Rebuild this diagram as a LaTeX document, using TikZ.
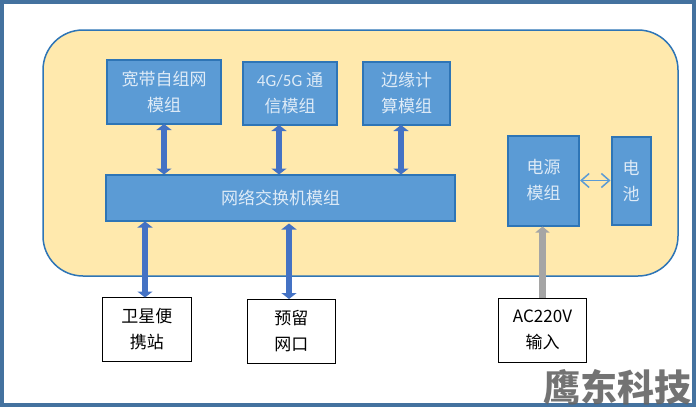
\documentclass[tikz,border=0pt]{standalone}
\usepackage{fontspec}
\setmainfont{Carlito}
\newfontfamily\cjk{Noto Sans CJK SC}
\usepackage{xcolor}
\definecolor{framblue}{RGB}{68,114,159}
\definecolor{panelfill}{RGB}{255,233,173}
\definecolor{panelline}{RGB}{46,117,182}
\definecolor{modfill}{RGB}{91,155,213}
\definecolor{modtext}{RGB}{222,235,247}
\definecolor{arrblue}{RGB}{68,114,196}
\definecolor{arrgray}{RGB}{165,165,165}
\definecolor{markgray}{RGB}{100,100,100}
\usetikzlibrary{arrows.meta,positioning}
\tikzset{
	modbox/.style = {rectangle,draw=panelline,line width=2pt,fill=modfill,
		align=center,inner sep=0pt,text=modtext,
		font=\cjk\fontsize{17}{26}\selectfont},
	extbox/.style = {rectangle,draw=black,line width=1pt,fill=white,
		minimum width=88.5pt,minimum height=64pt,
		align=center,inner sep=0pt,
		font=\cjk\fontsize{17}{26}\selectfont},
	arr/.style    = {{Triangle[width=15pt,length=6pt]}-{Triangle[width=15pt,length=6pt]},
		line width=6.5pt,arrblue,shorten >=-0.5pt,shorten <=-0.5pt},
	parr/.style   = {-{Triangle[width=14pt,length=6pt]},line width=6.5pt,arrgray},
	batarr/.style = {{Straight Barb[width=14pt,length=8pt]}-{Straight Barb[width=14pt,length=8pt]},
		line width=1.5pt,modfill},
}
\begin{document}
\begin{tikzpicture}[x=1pt,y=-1pt]
	\useasboundingbox (0,0) rectangle (696,407);
	\node (frame) [draw=framblue,line width=4pt,fill=white,inner sep=0pt,
	minimum width=692pt,minimum height=403pt] at (348,203.5) {};
	\node (panel) [draw=panelline,line width=1.5pt,fill=panelfill,rounded corners=40pt,
	minimum width=635pt,minimum height=246pt,inner sep=0pt] at (360.5,153) {};
	
	\node (switch) [modbox,minimum width=349pt,minimum height=46pt] at (280.5,198) {网络交换机模组};
	\node (wide) [modbox,minimum width=114pt,minimum height=64pt,
	above right=49.5pt and 1pt of switch.north west] {宽带自组网\\模组};
	\node (comm) [modbox,minimum width=94pt,minimum height=63pt,yshift=-1.5pt,
	right=20pt of wide] {{\fontspec{Carlito}4G/5G} 通\\信模组};
	\node (edgec) [modbox,minimum width=87pt,minimum height=63pt,right=24pt of comm] {边缘计\\算模组};
	\node (power) [modbox,minimum width=71pt,minimum height=90pt,yshift=17.5pt,
	right=51pt of switch] {电源\\模组};
	\node (bat) [modbox,minimum width=39pt,minimum height=88pt,right=30.5pt of power] {电\\池};
	
	\node (sat) [extbox,below right=75pt and -3pt of switch.south west] {卫星便\\携站};
	\node (port) [extbox,yshift=-1.5pt,right=55pt of sat] {预留\\网口};
	\node (ac) [extbox,xshift=-1pt,below=71pt of power] {AC220V\\输入};
	
	\draw[arr] (wide.south) -- (wide.south |- switch.north);
	\draw[arr] ([xshift=-11pt]comm.south) -- ([xshift=-11pt]comm.south |- switch.north);
	\draw[arr] ([xshift=-5.5pt]edgec.south) -- ([xshift=-5.5pt]edgec.south |- switch.north);
	\draw[arr] (sat.north -| 145,0) -- (switch.south -| 145,0);
	\draw[arr] (port.north -| 289,0) -- ([yshift=-2pt]switch.south -| 289,0);
	\draw[parr] (ac.north) -- (ac.north |- power.south);
	\draw[batarr] (power) -- (bat);
	
	\node (mark) [text=markgray,opacity=0.9,inner sep=0pt,
	font=\cjk\bfseries\fontsize{37}{37}\selectfont] at (617,387) {鹰东科技};
\end{tikzpicture}
\end{document}
